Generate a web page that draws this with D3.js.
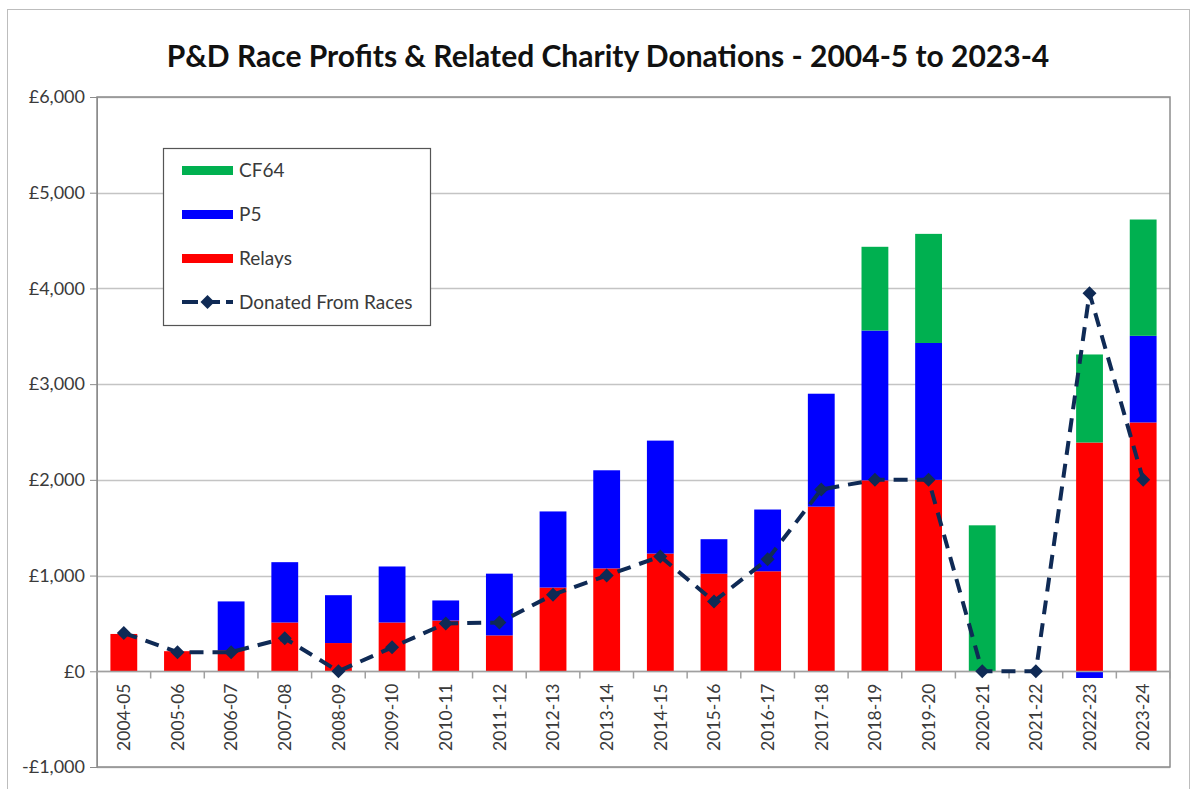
<!DOCTYPE html>
<html>
<head>
<meta charset="utf-8">
<script src="https://cdn.jsdelivr.net/npm/d3@7"></script>
<style>
  body { margin: 0; background: #fff; }
  svg { display: block; font-family: Lato, "Open Sans", sans-serif; }
</style>
</head>
<body>
<svg width="1194" height="789"></svg>
<script>
// data
const years = ["2004-05","2005-06","2006-07","2007-08","2008-09","2009-10","2010-11","2011-12","2012-13","2013-14",
               "2014-15","2015-16","2016-17","2017-18","2018-19","2019-20","2020-21","2021-22","2022-23","2023-24"];
const relays = [390, 210, 220, 510, 295, 510, 530, 375, 875, 1075, 1230, 1020, 1045, 1720, 1995, 2000, 0, 0, 2390, 2600];
const p5 = [0, 0, 510, 630, 500, 585, 210, 645, 795, 1025, 1180, 360, 645, 1180, 1565, 1430, 0, 0, -70, 905];
const cf64 = [0, 0, 0, 0, 0, 0, 0, 0, 0, 0, 0, 0, 0, 0, 875, 1140, 1525, 0, 920, 1215];
const donated = [400, 200, 200, 345, 0, 250, 500, 510, 800, 1000, 1200, 730, 1170, 1900, 2000, 2000, 0, 0, 3950, 2000];
const yTicks = [-1000, 0, 1000, 2000, 3000, 4000, 5000, 6000];

const seriesKeys = ["relays", "p5", "cf64"];
const seriesNames = {cf64: "CF64", p5: "P5", relays: "Relays"};
const colors = {relays: "#ff0000", p5: "#0000ff", cf64: "#00b050"};
const lineColor = "#0f2a55";
const textColor = "#3a3a3a";

let svg = d3.select("svg");

// chart frame
svg.append("rect")
    .attr("x", 7.5).attr("y", 9.5)
    .attr("width", 1182).attr("height", 800)
    .attr("fill", "#fff")
    .attr("stroke", "#bdbdbd");

let plot = {left: 97, right: 1170, top: 97, bottom: 767};

let x = d3.scaleBand()
    .domain(years)
    .range([plot.left, plot.right])
    .paddingInner(0.5)
    .paddingOuter(0.25);

let y = d3.scaleLinear()
    .domain([-1000, 6000])
    .range([plot.bottom, plot.top]);

// gridlines
svg.append("g")
    .selectAll("line")
    .data(yTicks)
    .enter().append("line")
    .attr("x1", plot.left).attr("x2", plot.right)
    .attr("y1", d => Math.round(y(d)) + 0.5)
    .attr("y2", d => Math.round(y(d)) + 0.5)
    .attr("stroke", "#c4c4c4")
    .attr("stroke-width", 1.5);

// plot border
svg.append("rect")
    .attr("x", plot.left).attr("y", plot.top)
    .attr("width", plot.right - plot.left)
    .attr("height", plot.bottom - plot.top)
    .attr("fill", "none")
    .attr("stroke", "#8c8c8c")
    .attr("stroke-width", 1.5);

// y axis
let yAxis = svg.append("g")
    .attr("transform", `translate(${plot.left},0)`)
    .call(d3.axisLeft(y)
        .tickValues(yTicks)
        .tickSize(7)
        .tickPadding(5)
        .tickFormat(d => (d < 0 ? "-£" : "£") + d3.format(",")(Math.abs(d))));
yAxis.select(".domain").attr("stroke", "#8c8c8c");
yAxis.selectAll(".tick line").attr("stroke", "#8c8c8c");
yAxis.selectAll("text")
    .attr("font-size", 18)
    .attr("fill", textColor)
    .attr("font-family", "Lato, 'Open Sans', sans-serif");

// stacked bars
let table = years.map((yr, i) => ({year: yr, relays: relays[i], p5: p5[i], cf64: cf64[i]}));
let stacked = d3.stack()
    .keys(seriesKeys)
    .offset(d3.stackOffsetDiverging)(table);

svg.append("g")
    .selectAll("g")
    .data(stacked)
    .enter().append("g")
    .attr("fill", d => colors[d.key])
    .selectAll("rect")
    .data(d => d)
    .enter().append("rect")
    .attr("x", d => x(d.data.year))
    .attr("width", x.bandwidth())
    .attr("y", d => y(Math.max(d[0], d[1])))
    .attr("height", d => Math.abs(y(d[0]) - y(d[1])));

// x axis at zero
let x0 = Math.round(y(0)) + 0.5;
svg.append("line")
    .attr("x1", plot.left).attr("x2", plot.right)
    .attr("y1", x0).attr("y2", x0)
    .attr("stroke", "#a0a0a0")
    .attr("stroke-width", 1.5);

let step = x.step();
svg.append("g")
    .selectAll("line")
    .data(d3.range(years.length + 1))
    .enter().append("line")
    .attr("x1", i => plot.left + i * step)
    .attr("x2", i => plot.left + i * step)
    .attr("y1", x0).attr("y2", x0 + 7)
    .attr("stroke", "#a0a0a0")
    .attr("stroke-width", 1.5);

svg.append("g")
    .selectAll("text")
    .data(years)
    .enter().append("text")
    .attr("transform", d => `translate(${x(d) + x.bandwidth() / 2},${x0 + 12}) rotate(-90)`)
    .attr("text-anchor", "end")
    .attr("dy", "0.36em")
    .attr("font-size", 17.5)
    .attr("fill", textColor)
    .text(d => d);

// donated line
let cx = d => x(d) + x.bandwidth() / 2;
let line = d3.line()
    .x((d, i) => cx(years[i]))
    .y(d => y(d));

svg.append("path")
    .datum(donated)
    .attr("d", line)
    .attr("fill", "none")
    .attr("stroke", lineColor)
    .attr("stroke-width", 4)
    .attr("stroke-dasharray", "14,9");

let diamond = "M0,-7L7,0L0,7L-7,0Z";
svg.append("g")
    .selectAll("path")
    .data(donated)
    .enter().append("path")
    .attr("d", diamond)
    .attr("transform", (d, i) => `translate(${cx(years[i])},${y(d)})`)
    .attr("fill", lineColor);

// legend
let legend = svg.append("g").attr("transform", "translate(163,148)");
legend.append("rect")
    .attr("x", 0.5).attr("y", 0.5)
    .attr("width", 267).attr("height", 177)
    .attr("fill", "#fff")
    .attr("stroke", "#555")
    .attr("stroke-width", 1.2);

let legendItems = ["cf64", "p5", "relays"];
legendItems.forEach((k, i) => {
    let ly = 22 + i * 44;
    legend.append("rect")
        .attr("x", 19).attr("y", ly - 4)
        .attr("width", 51).attr("height", 9)
        .attr("fill", colors[k]);
    legend.append("text")
        .attr("x", 76).attr("y", ly + 7)
        .attr("font-size", 19)
        .attr("fill", textColor)
        .text(seriesNames[k]);
});
let ly = 154;
legend.append("line")
    .attr("x1", 19).attr("x2", 70)
    .attr("y1", ly).attr("y2", ly)
    .attr("stroke", lineColor)
    .attr("stroke-width", 4)
    .attr("stroke-dasharray", "16,6");
legend.append("path")
    .attr("d", diamond)
    .attr("transform", `translate(44.5,${ly})`)
    .attr("fill", lineColor);
legend.append("text")
    .attr("x", 76).attr("y", ly + 7)
    .attr("font-size", 19)
    .attr("fill", textColor)
    .text("Donated From Races");

// title
svg.append("text")
    .attr("x", 608).attr("y", 67)
    .attr("text-anchor", "middle")
    .attr("font-size", 30)
    .attr("font-weight", "bold")
    .attr("fill", "#111")
    .text("P&D Race Profits & Related Charity Donations - 2004-5 to 2023-4");
</script>
</body>
</html>
